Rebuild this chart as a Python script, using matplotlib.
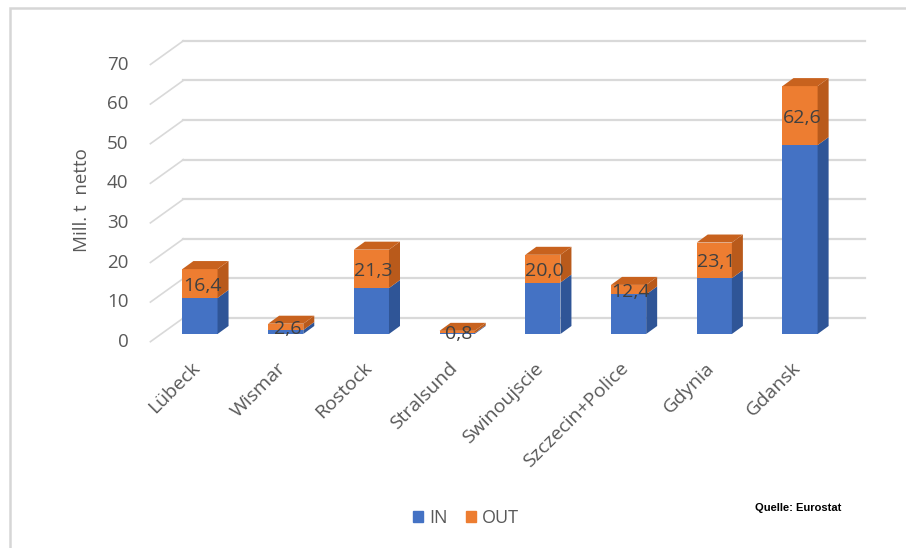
import matplotlib.pyplot as plt
from matplotlib.patches import Polygon, Rectangle, Patch

# Häfen und Umschlag (Mill. t netto)
ports = ["Lübeck", "Wismar", "Rostock", "Stralsund", "Swinoujscie",
         "Szczecin+Police", "Gdynia", "Gdansk"]
in_vals = [9.1, 1.0, 11.6, 0.2, 13.0, 10.0, 14.1, 47.7]
out_vals = [7.3, 1.6, 9.7, 0.6, 7.0, 2.4, 9.0, 14.9]
totals = [16.4, 2.6, 21.3, 0.8, 20.0, 12.4, 23.1, 62.6]
yticks = [0, 10, 20, 30, 40, 50, 60, 70]

c_in, c_in_side = "#4472C4", "#2F5597"
c_out, c_out_side, c_out_top = "#ED7D31", "#B95A1B", "#C8621E"
grid_c = "#D9D9D9"
txt_c = "#595959"

plt.rcParams["font.family"] = ["Open Sans", "DejaVu Sans"]

fig = plt.figure(figsize=(9.06, 5.48), dpi=100)
W, H = 906, 548
ax = fig.add_axes([161.4 / W, 214 / H, 681.5 / W, 277.2 / H])
ax.set_xlim(-0.45, 7.5)
ax.set_ylim(0, 70)
ax.axis("off")

# pixel -> data umrechnung
p0 = ax.transData.transform((0, 0))
p1 = ax.transData.transform((1, 1))
px_x, px_y = p1[0] - p0[0], p1[1] - p0[1]
def dx(px):
    return px / px_x
def dy(px):
    return px / px_y

# Rahmen
fig.add_artist(Rectangle((10 / W, -0.1), 1.2, 1.1 - 8 / H, transform=fig.transFigure,
                         fill=False, edgecolor="#D6D6D6", lw=1.8))

# Rückwand-Gitter + Diagonalen
x0, x1 = -0.45, 7.5
fx, fy = dx(-11), dy(-7.7)
bx, by = dx(22), dy(16)
for v in yticks:
    ax.plot([x0 + bx, x1 + bx], [v + by, v + by], color=grid_c, lw=1.6,
            clip_on=False, zorder=1)
    ax.plot([x0 + fx, x0 + bx], [v + fy, v + by], color=grid_c, lw=1.2,
            clip_on=False, zorder=1)
    ax.text(x0 + fx - dx(22), v + fy, str(v), ha="right", va="center",
            fontsize=13.5, color=txt_c, clip_on=False)

fig.text(82 / W, 1 - 200 / H, "Mill. t  netto", rotation=90, ha="center",
         va="center", fontsize=13.5, color=txt_c)

# 3D-Säulen
bw = 0.41
ddx, ddy = dx(11), dy(8)

def side(x, y0, y1, col):
    ax.add_patch(Polygon([(x, y0), (x + ddx, y0 + ddy), (x + ddx, y1 + ddy), (x, y1)],
                         closed=True, facecolor=col, edgecolor="none", zorder=3,
                         clip_on=False))

for i in range(len(ports)):
    left, right = i - bw / 2, i + bw / 2
    ax.bar(i, in_vals[i], width=bw, color=c_in, zorder=3, clip_on=False)
    side(right, 0, in_vals[i], c_in_side)
    ax.bar(i, out_vals[i], bottom=in_vals[i], width=bw, color=c_out, zorder=3,
           clip_on=False)
    top = in_vals[i] + out_vals[i]
    side(right, in_vals[i], top, c_out_side)
    ax.add_patch(Polygon([(left, top), (right, top), (right + ddx, top + ddy),
                          (left + ddx, top + ddy)], closed=True, facecolor=c_out_top,
                         edgecolor="none", zorder=3, clip_on=False))
    ax.text(i + dx(2), in_vals[i] + out_vals[i] / 2 - dy(2),
            f"{totals[i]:.1f}".replace(".", ","), ha="center", va="center",
            fontsize=14, color="#404040", zorder=5, clip_on=False)
    ax.text(i - dx(9), dy(-25), ports[i], rotation=45, rotation_mode="anchor",
            ha="right", va="top", fontsize=14, color=txt_c, clip_on=False)

fig.legend(handles=[Patch(color=c_in, label="IN"), Patch(color=c_out, label="OUT")],
           loc="center", bbox_to_anchor=(466 / W, 1 - 518 / H), ncol=2, frameon=False,
           handlelength=0.55, handleheight=0.55, handletextpad=0.35,
           columnspacing=1.0, fontsize=13, labelcolor=txt_c)

fig.text(798 / W, 1 - 508 / H, "Quelle: Eurostat", ha="center", va="center",
         fontsize=8, fontweight="bold", color="black",
         family=["Liberation Sans Narrow", "Liberation Sans", "DejaVu Sans"])

fig.savefig("out.png", dpi=100)
